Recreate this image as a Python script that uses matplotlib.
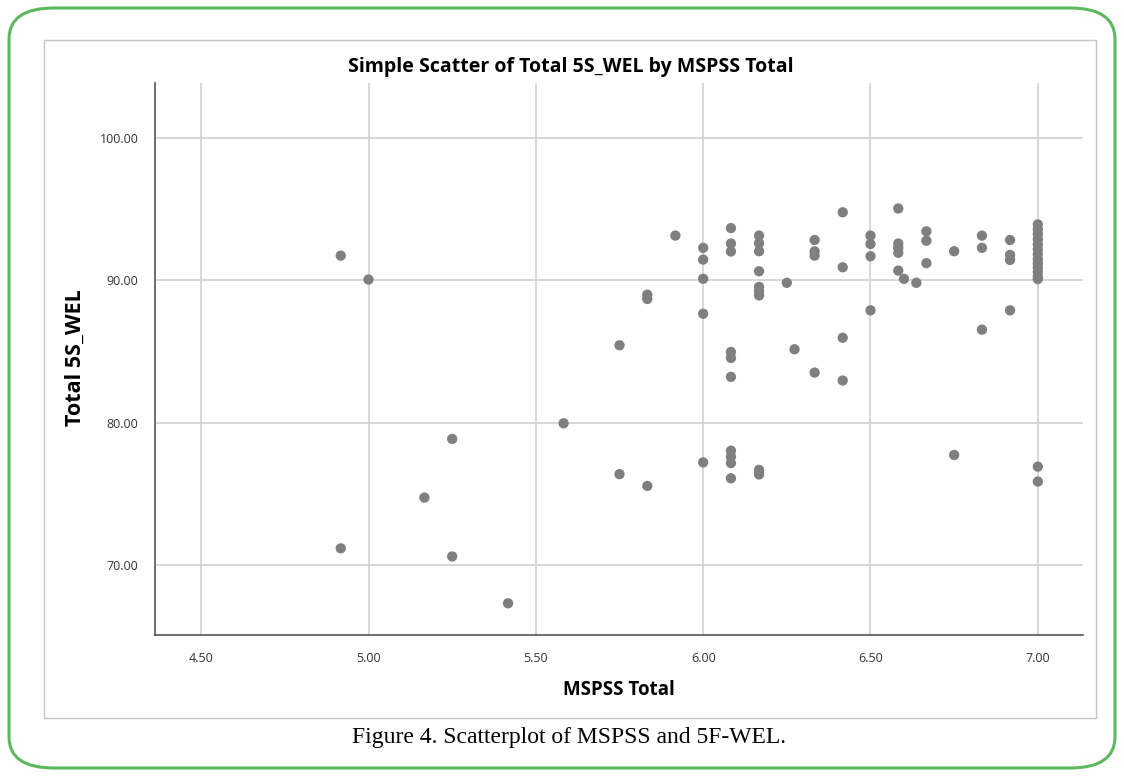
import matplotlib.pyplot as plt
from matplotlib.patches import FancyBboxPatch, Rectangle
import numpy as np

# data (MSPSS mean score vs Total 5S_WEL)
mspss = [4.917, 4.917, 5.000, 5.167, 5.250, 5.250, 5.417, 5.583, 5.750, 5.750,
         5.833, 5.833, 5.833, 5.917,
         6.000, 6.000, 6.000, 6.000, 6.000,
         6.083, 6.083, 6.083, 6.083, 6.083, 6.083, 6.083, 6.083, 6.083, 6.083,
         6.167, 6.167, 6.167, 6.167, 6.167, 6.167, 6.167, 6.167, 6.167,
         6.250, 6.273,
         6.333, 6.333, 6.333, 6.333,
         6.417, 6.417, 6.417, 6.417,
         6.500, 6.500, 6.500, 6.500,
         6.583, 6.583, 6.583, 6.583, 6.583, 6.600, 6.637,
         6.667, 6.667, 6.667,
         6.750, 6.750,
         6.833, 6.833, 6.833,
         6.917, 6.917, 6.917, 6.917,
         7.0, 7.0, 7.0, 7.0, 7.0, 7.0, 7.0, 7.0, 7.0, 7.0, 7.0, 7.0, 7.0, 7.0, 7.0]
wel = [91.75, 71.15, 90.07, 74.72, 78.85, 70.58, 67.28, 79.95, 85.44, 76.37,
       89.0, 88.7, 75.54, 93.16,
       92.3, 91.47, 90.12, 87.66, 77.2,
       93.69, 92.6, 92.04, 84.97, 84.55, 83.22, 78.02, 77.6, 77.15, 76.08,
       93.16, 92.62, 92.06, 90.65, 89.55, 89.25, 88.95, 76.67, 76.35,
       89.84, 85.16,
       92.85, 92.05, 91.75, 83.52,
       94.8, 90.93, 85.97, 82.96,
       93.16, 92.57, 91.71, 87.9,
       95.07, 92.6, 92.3, 91.95, 90.7, 90.12, 89.84,
       93.46, 92.8, 91.22,
       92.06, 77.72,
       93.16, 92.3, 86.54,
       92.85, 91.8, 91.45, 87.9,
       93.95, 93.6, 93.25, 92.9, 92.55, 92.2, 91.85, 91.5, 91.2, 90.9, 90.6, 90.3, 90.1, 76.9, 75.85]

x_ticks = [4.5, 5.0, 5.5, 6.0, 6.5, 7.0]
y_ticks = [70, 80, 90, 100]

fig = plt.figure(figsize=(11.24, 7.76), dpi=100)
W, H = 1124, 776

# green rounded outer border
border = FancyBboxPatch((9 / W, 8 / H), 1106 / W, 760 / H,
                        boxstyle="round,pad=0,rounding_size=0.04",
                        transform=fig.transFigure, fill=False,
                        edgecolor="#5cb85c", linewidth=2.2)
fig.patches.append(border)

# grey chart frame
frame = Rectangle((44 / W, 1 - 718 / H), 1052 / W, 678 / H, transform=fig.transFigure,
                  fill=False, edgecolor="#c4c4c4", linewidth=1.0)
fig.patches.append(frame)

ax = fig.add_axes([155 / W, 1 - 635 / H, 928 / W, 552 / H])
ax.scatter(mspss, wel, s=55, color="#7f7f7f", edgecolors="none", zorder=3)

ax.set_xlim(4.362, 7.135)
ax.set_ylim(65.05, 103.9)
ax.set_xticks(x_ticks)
ax.set_yticks(y_ticks)
ax.set_xticklabels(["%.2f" % v for v in x_ticks], fontsize=9, family="Open Sans", color="#333333")
ax.set_yticklabels(["%.2f" % v for v in y_ticks], fontsize=9, family="Open Sans", color="#333333")
ax.tick_params(length=0, pad=12)
ax.grid(True, color="#d4d4d4", linewidth=1.3, zorder=0)
ax.set_axisbelow(True)
for side in ["top", "right"]:
    ax.spines[side].set_visible(False)
for side in ["left", "bottom"]:
    ax.spines[side].set_color("#555555")
    ax.spines[side].set_linewidth(1.2)

fig.text(571 / W, 1 - 67 / H, "Simple Scatter of Total 5S_WEL by MSPSS Total",
         ha="center", va="center", fontsize=14, fontweight="bold", family="Open Sans")
fig.text(619 / W, 1 - 690 / H, "MSPSS Total", ha="center", va="center",
         fontsize=13.5, fontweight="bold", family="Open Sans")
fig.text(75 / W, 1 - 358 / H, "Total 5S_WEL", ha="center", va="center", rotation=90,
         fontsize=15.5, fontweight="bold", family="Open Sans")

fig.text(569 / W, 1 - 738 / H, "Figure 4. Scatterplot of MSPSS and 5F-WEL.",
         ha="center", va="center", fontsize=17, family="Liberation Serif")

fig.savefig("out.png", dpi=100)
